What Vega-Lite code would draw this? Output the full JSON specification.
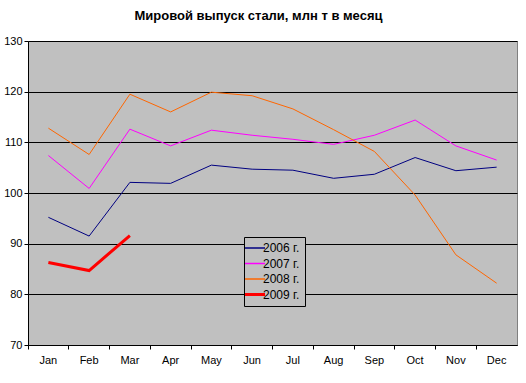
{
  "$schema": "https://vega.github.io/schema/vega-lite/v6.json",
  "autosize": "none",
  "width": 489,
  "height": 304,
  "padding": {"left": 28, "top": 41, "right": 9, "bottom": 38},
  "background": "white",
  "title": {"text": "Мировой выпуск стали, млн т в месяц", "font": "Liberation Sans", "fontSize": 13, "fontWeight": "bold", "color": "black", "offset": 12, "dx": -14},
  "config": {
    "view": {"fill": "#C0C0C0", "stroke": "#808080", "strokeWidth": 1},
    "font": "Liberation Sans"
  },
  "data": {"values": [
    {"month": "Jan", "year": "2006 г.", "v": 95.2},
    {"month": "Feb", "year": "2006 г.", "v": 91.5},
    {"month": "Mar", "year": "2006 г.", "v": 102.1},
    {"month": "Apr", "year": "2006 г.", "v": 101.9},
    {"month": "May", "year": "2006 г.", "v": 105.5},
    {"month": "Jun", "year": "2006 г.", "v": 104.7},
    {"month": "Jul", "year": "2006 г.", "v": 104.5},
    {"month": "Aug", "year": "2006 г.", "v": 102.9},
    {"month": "Sep", "year": "2006 г.", "v": 103.7},
    {"month": "Oct", "year": "2006 г.", "v": 107.0},
    {"month": "Nov", "year": "2006 г.", "v": 104.4},
    {"month": "Dec", "year": "2006 г.", "v": 105.1},
    {"month": "Jan", "year": "2007 г.", "v": 107.4},
    {"month": "Feb", "year": "2007 г.", "v": 100.9},
    {"month": "Mar", "year": "2007 г.", "v": 112.6},
    {"month": "Apr", "year": "2007 г.", "v": 109.3},
    {"month": "May", "year": "2007 г.", "v": 112.4},
    {"month": "Jun", "year": "2007 г.", "v": 111.4},
    {"month": "Jul", "year": "2007 г.", "v": 110.6},
    {"month": "Aug", "year": "2007 г.", "v": 109.6},
    {"month": "Sep", "year": "2007 г.", "v": 111.4},
    {"month": "Oct", "year": "2007 г.", "v": 114.4},
    {"month": "Nov", "year": "2007 г.", "v": 109.3},
    {"month": "Dec", "year": "2007 г.", "v": 106.5},
    {"month": "Jan", "year": "2008 г.", "v": 112.8},
    {"month": "Feb", "year": "2008 г.", "v": 107.6},
    {"month": "Mar", "year": "2008 г.", "v": 119.5},
    {"month": "Apr", "year": "2008 г.", "v": 116.0},
    {"month": "May", "year": "2008 г.", "v": 119.9},
    {"month": "Jun", "year": "2008 г.", "v": 119.2},
    {"month": "Jul", "year": "2008 г.", "v": 116.6},
    {"month": "Aug", "year": "2008 г.", "v": 112.5},
    {"month": "Sep", "year": "2008 г.", "v": 108.2},
    {"month": "Oct", "year": "2008 г.", "v": 99.6},
    {"month": "Nov", "year": "2008 г.", "v": 87.8},
    {"month": "Dec", "year": "2008 г.", "v": 82.2},
    {"month": "Jan", "year": "2009 г.", "v": 86.3},
    {"month": "Feb", "year": "2009 г.", "v": 84.7},
    {"month": "Mar", "year": "2009 г.", "v": 91.6}
  ]},
  "encoding": {
    "x": {
      "field": "month", "type": "ordinal",
      "sort": ["Jan","Feb","Mar","Apr","May","Jun","Jul","Aug","Sep","Oct","Nov","Dec"],
      "scale": {"type": "band", "paddingInner": 0, "paddingOuter": 0},
      "axis": {"title": null, "bandPosition": 0, "labelAngle": 0, "labelFont": "Liberation Sans", "labelFontSize": 11, "labelColor": "black", "labelPadding": 11, "labelAlign": "center", "labelBaseline": "middle", "ticks": true, "tickSize": 4, "tickColor": "black", "domainColor": "black", "grid": false}
    },
    "y": {
      "field": "v", "type": "quantitative",
      "scale": {"domain": [70, 130], "nice": false, "zero": false},
      "axis": {"title": null, "values": [70,80,90,100,110,120,130], "labelFont": "Liberation Sans", "labelFontSize": 11, "labelColor": "black", "labelPadding": 2, "tickSize": 4, "tickColor": "black", "domainColor": "black", "grid": true, "gridColor": "black", "gridOpacity": 1, "gridWidth": 1}
    },
    "color": {
      "field": "year", "type": "nominal",
      "scale": {"domain": ["2006 г.","2007 г.","2008 г.","2009 г."], "range": ["#000080","#FF00FF","#FF6600","#FF0000"]},
      "legend": {"title": null, "orient": "none", "legendX": 216, "legendY": 196, "fillColor": "#C0C0C0", "strokeColor": "black", "padding": 5, "symbolType": "stroke", "symbolSize": 400, "symbolStrokeWidth": 1.5, "labelFont": "Liberation Sans", "labelFontSize": 12, "labelColor": "black", "rowPadding": 3.5, "labelOffset": 2,
        "encode": {"symbols": {"update": {"strokeWidth": {"signal": "datum.value === '2009 г.' ? 3 : 1.5"}}}}}
    }
  },
  "layer": [
    {
      "transform": [{"filter": "datum.year !== '2009 г.'"}],
      "mark": {"type": "line", "strokeWidth": 1}
    },
    {
      "transform": [{"filter": "datum.year === '2009 г.'"}],
      "mark": {"type": "line", "strokeWidth": 3}
    }
  ]
}
